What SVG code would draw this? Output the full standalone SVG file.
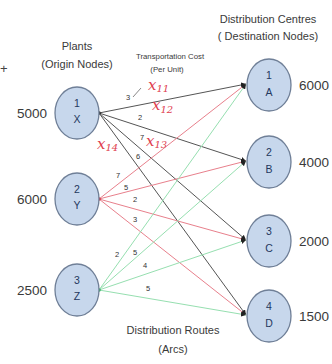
<svg xmlns="http://www.w3.org/2000/svg" width="332" height="364" viewBox="0 0 332 364">
  <style>
    .node ellipse { fill: #c7d7ec; stroke: #6f7f97; stroke-width: 1.3; }
    .nid { font-family: "Liberation Sans", Arial, sans-serif; font-size: 10.5px; fill: #24385e; text-anchor: middle; }
    .qty { font-family: "Liberation Sans", Arial, sans-serif; font-size: 13.5px; fill: #3a3a3a; }
    .title { font-family: "Liberation Sans", Arial, sans-serif; font-size: 11px; fill: #3a3a3a; text-anchor: middle; }
    .small { font-family: "Liberation Sans", Arial, sans-serif; font-size: 7.8px; fill: #3a3a3a; text-anchor: middle; }
    .cost { font-family: "Liberation Sans", Arial, sans-serif; font-size: 7.5px; fill: #333; text-anchor: middle; }
    .hand { font-family: "DejaVu Serif", serif; font-style: italic; font-size: 15px; fill: #e0404f; }
    .ex { stroke: #555; stroke-width: 1; fill: none; }
    .ey { stroke: #e8808c; stroke-width: 1; fill: none; }
    .ez { stroke: #96dfb0; stroke-width: 1; fill: none; }
  </style>
  <defs>
    <marker id="tip" viewBox="0 0 10 10" refX="10" refY="5" markerWidth="5" markerHeight="5" orient="auto">
      <path d="M0,0 L10,5 L0,10 z" fill="#222"/>
    </marker>
  </defs>
  <rect width="332" height="364" fill="#ffffff"/>

  <!-- headings -->
  <text x="0" y="73" font-family="Liberation Sans, sans-serif" font-size="13" fill="#444">+</text>
  <text class="title" x="77" y="50">Plants</text>
  <text class="title" x="77" y="68">(Origin Nodes)</text>
  <text class="title" x="268" y="23">Distribution Centres</text>
  <text class="title" x="268" y="40">( Destination Nodes)</text>
  <text class="small" x="170" y="59">Transportation Cost</text>
  <text class="small" x="167" y="72">(Per Unit)</text>
  <text class="title" x="173" y="334" font-size="12.5">Distribution Routes</text>
  <text class="title" x="173" y="353">(Arcs)</text>

  <!-- connectors -->
  <g id="connectors">
    <line class="ex" x1="99" y1="113" x2="246" y2="84" marker-end="url(#tip)"/>
    <line class="ex" x1="99" y1="113" x2="246" y2="161" marker-end="url(#tip)"/>
    <line class="ex" x1="99" y1="113" x2="246" y2="240" marker-end="url(#tip)"/>
    <line class="ex" x1="99" y1="113" x2="246" y2="315" marker-end="url(#tip)"/>
    <line class="ey" x1="99" y1="199" x2="246" y2="84" marker-end="url(#tip)"/>
    <line class="ey" x1="99" y1="199" x2="246" y2="161" marker-end="url(#tip)"/>
    <line class="ey" x1="99" y1="199" x2="246" y2="240" marker-end="url(#tip)"/>
    <line class="ey" x1="99" y1="199" x2="246" y2="315" marker-end="url(#tip)"/>
    <line class="ez" x1="99" y1="290" x2="246" y2="84" marker-end="url(#tip)"/>
    <line class="ez" x1="99" y1="290" x2="246" y2="161" marker-end="url(#tip)"/>
    <line class="ez" x1="99" y1="290" x2="246" y2="240" marker-end="url(#tip)"/>
    <line class="ez" x1="99" y1="290" x2="246" y2="315" marker-end="url(#tip)"/>
    <!-- pointer from the cost caption -->
    <line x1="133" y1="97" x2="141" y2="88" stroke="#555" stroke-width="0.7"/>
    <circle cx="99" cy="113" r="1.8" fill="#222"/>
    <circle cx="99" cy="199" r="1.8" fill="#d03040"/>
    <circle cx="99" cy="290" r="1.8" fill="#30b060"/>
  </g>

  <!-- unit costs -->
  <g id="costs">
    <text class="cost" x="128" y="100">3</text>
    <text class="cost" x="140" y="120">2</text>
    <text class="cost" x="142" y="140">7</text>
    <text class="cost" x="138" y="159">6</text>
    <text class="cost" x="118" y="178">7</text>
    <text class="cost" x="126" y="190">5</text>
    <text class="cost" x="135" y="202">2</text>
    <text class="cost" x="135" y="222">3</text>
    <text class="cost" x="117" y="257">2</text>
    <text class="cost" x="135" y="255">5</text>
    <text class="cost" x="145" y="268">4</text>
    <text class="cost" x="148" y="291">5</text>
  </g>

  <!-- handwritten decision variables -->
  <g id="variables">
    <text class="hand" x="148" y="90">x<tspan font-size="10" dy="2">11</tspan></text>
    <text class="hand" x="152" y="110">x<tspan font-size="10" dy="3">12</tspan></text>
    <text class="hand" x="146" y="146">x<tspan font-size="10" dy="2">13</tspan></text>
    <text class="hand" x="97" y="149">x<tspan font-size="10" dy="2">14</tspan></text>
  </g>

  <!-- plants -->
  <g id="node-x" class="node">
    <ellipse cx="77" cy="113" rx="22" ry="26"/>
    <text class="nid" x="77" y="107">1</text>
    <text class="nid" x="77" y="123">X</text>
    <text class="qty" x="47" y="118" text-anchor="end">5000</text>
  </g>
  <g id="node-y" class="node">
    <ellipse cx="77" cy="199" rx="22" ry="26"/>
    <text class="nid" x="77" y="193">2</text>
    <text class="nid" x="77" y="209">Y</text>
    <text class="qty" x="47" y="204" text-anchor="end">6000</text>
  </g>
  <g id="node-z" class="node">
    <ellipse cx="77" cy="290" rx="22" ry="26"/>
    <text class="nid" x="77" y="284">3</text>
    <text class="nid" x="77" y="300">Z</text>
    <text class="qty" x="47" y="295" text-anchor="end">2500</text>
  </g>

  <!-- distribution centres -->
  <g id="node-a" class="node">
    <ellipse cx="269" cy="85" rx="22" ry="26"/>
    <text class="nid" x="269" y="79">1</text>
    <text class="nid" x="269" y="96">A</text>
    <text class="qty" x="299" y="90">6000</text>
  </g>
  <g id="node-b" class="node">
    <ellipse cx="269" cy="162" rx="22" ry="26"/>
    <text class="nid" x="269" y="156">2</text>
    <text class="nid" x="269" y="173">B</text>
    <text class="qty" x="299" y="167">4000</text>
  </g>
  <g id="node-c" class="node">
    <ellipse cx="269" cy="241" rx="22" ry="26"/>
    <text class="nid" x="269" y="235">3</text>
    <text class="nid" x="269" y="252">C</text>
    <text class="qty" x="299" y="246">2000</text>
  </g>
  <g id="node-d" class="node">
    <ellipse cx="269" cy="316" rx="22" ry="26"/>
    <text class="nid" x="269" y="310">4</text>
    <text class="nid" x="269" y="327">D</text>
    <text class="qty" x="299" y="321">1500</text>
  </g>
</svg>
